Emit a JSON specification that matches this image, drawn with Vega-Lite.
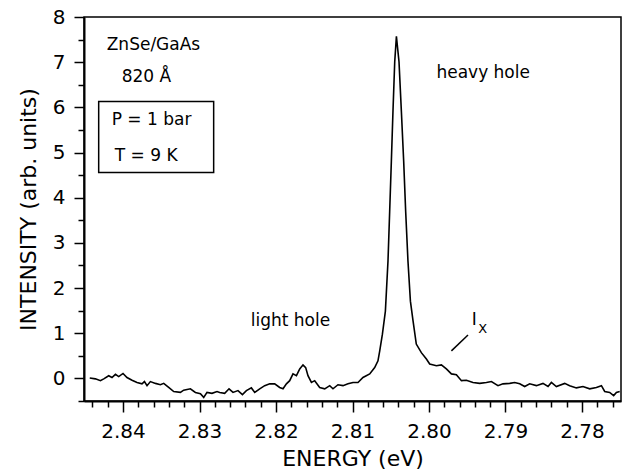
{
  "$schema": "https://vega.github.io/schema/vega-lite/v6.json",
  "width": 537,
  "height": 384,
  "autosize": {"type": "none"},
  "padding": {"left": 84, "top": 17, "right": 3, "bottom": 73},
  "background": "white",
  "config": {
    "view": {"stroke": "black", "strokeWidth": 1.5},
    "font": "DejaVu Sans",
    "axis": {
      "grid": false, "domainColor": "black", "tickColor": "black", "labelColor": "black", "titleColor": "black",
      "domainWidth": 2, "tickWidth": 1.5, "labelFont": "DejaVu Sans", "titleFont": "DejaVu Sans",
      "labelFontWeight": "normal", "titleFontWeight": "normal"
    }
  },
  "datasets": {
    "spectrum": [
      {"energy": 2.84435, "intensity": 0.01}, {"energy": 2.84361, "intensity": -0.01}, {"energy": 2.84295, "intensity": -0.05},
      {"energy": 2.84252, "intensity": -0.01}, {"energy": 2.84187, "intensity": 0.06}, {"energy": 2.84144, "intensity": 0.02},
      {"energy": 2.84099, "intensity": 0.09}, {"energy": 2.84056, "intensity": 0.04}, {"energy": 2.84, "intensity": 0.11},
      {"energy": 2.83948, "intensity": 0.02}, {"energy": 2.83882, "intensity": -0.04}, {"energy": 2.83817, "intensity": -0.09},
      {"energy": 2.83752, "intensity": -0.12}, {"energy": 2.8372, "intensity": -0.07}, {"energy": 2.83686, "intensity": -0.16},
      {"energy": 2.83642, "intensity": -0.07}, {"energy": 2.83576, "intensity": -0.11}, {"energy": 2.83511, "intensity": -0.14},
      {"energy": 2.83468, "intensity": -0.11}, {"energy": 2.83403, "intensity": -0.2}, {"energy": 2.83337, "intensity": -0.29},
      {"energy": 2.8325, "intensity": -0.31}, {"energy": 2.83207, "intensity": -0.26}, {"energy": 2.83119, "intensity": -0.23},
      {"energy": 2.83054, "intensity": -0.31}, {"energy": 2.82988, "intensity": -0.34}, {"energy": 2.82945, "intensity": -0.42},
      {"energy": 2.82902, "intensity": -0.31}, {"energy": 2.82837, "intensity": -0.33}, {"energy": 2.82771, "intensity": -0.29},
      {"energy": 2.82736, "intensity": -0.31}, {"energy": 2.82671, "intensity": -0.33}, {"energy": 2.82614, "intensity": -0.23},
      {"energy": 2.82562, "intensity": -0.31}, {"energy": 2.82497, "intensity": -0.27}, {"energy": 2.82439, "intensity": -0.36},
      {"energy": 2.82387, "intensity": -0.27}, {"energy": 2.82322, "intensity": -0.21}, {"energy": 2.82278, "intensity": -0.31},
      {"energy": 2.82213, "intensity": -0.23}, {"energy": 2.82148, "intensity": -0.16}, {"energy": 2.82082, "intensity": -0.12},
      {"energy": 2.82017, "intensity": -0.12}, {"energy": 2.81952, "intensity": -0.2}, {"energy": 2.81908, "intensity": -0.23},
      {"energy": 2.81864, "intensity": -0.12}, {"energy": 2.81821, "intensity": -0.05}, {"energy": 2.81778, "intensity": 0.1},
      {"energy": 2.81733, "intensity": 0.06}, {"energy": 2.8169, "intensity": 0.21}, {"energy": 2.81647, "intensity": 0.3},
      {"energy": 2.81612, "intensity": 0.24}, {"energy": 2.81582, "intensity": 0.06}, {"energy": 2.81537, "intensity": -0.09},
      {"energy": 2.81494, "intensity": -0.05}, {"energy": 2.81429, "intensity": -0.2}, {"energy": 2.81363, "intensity": -0.23},
      {"energy": 2.81298, "intensity": -0.16}, {"energy": 2.81255, "intensity": -0.23}, {"energy": 2.8119, "intensity": -0.14},
      {"energy": 2.81124, "intensity": -0.16}, {"energy": 2.81059, "intensity": -0.12}, {"energy": 2.80993, "intensity": -0.09},
      {"energy": 2.80928, "intensity": -0.09}, {"energy": 2.80863, "intensity": 0.02}, {"energy": 2.80775, "intensity": 0.1},
      {"energy": 2.8071, "intensity": 0.24}, {"energy": 2.80667, "intensity": 0.39}, {"energy": 2.80644, "intensity": 0.61},
      {"energy": 2.80609, "intensity": 0.98}, {"energy": 2.8057, "intensity": 1.49}, {"energy": 2.80536, "intensity": 2.6},
      {"energy": 2.80514, "intensity": 3.7}, {"energy": 2.80492, "intensity": 4.81}, {"energy": 2.80471, "intensity": 5.91},
      {"energy": 2.80448, "intensity": 7.01}, {"energy": 2.80426, "intensity": 7.57}, {"energy": 2.80392, "intensity": 7.01},
      {"energy": 2.80361, "intensity": 5.91}, {"energy": 2.80331, "intensity": 4.81}, {"energy": 2.80305, "intensity": 3.7},
      {"energy": 2.80275, "intensity": 2.6}, {"energy": 2.80243, "intensity": 1.71}, {"energy": 2.80209, "intensity": 1.28},
      {"energy": 2.80166, "intensity": 0.76}, {"energy": 2.801, "intensity": 0.57}, {"energy": 2.80034, "intensity": 0.43},
      {"energy": 2.79991, "intensity": 0.32}, {"energy": 2.79903, "intensity": 0.28}, {"energy": 2.79838, "intensity": 0.3},
      {"energy": 2.79773, "intensity": 0.21}, {"energy": 2.79707, "intensity": 0.1}, {"energy": 2.79642, "intensity": 0.08},
      {"energy": 2.79576, "intensity": -0.05}, {"energy": 2.79511, "intensity": -0.04}, {"energy": 2.79425, "intensity": -0.09},
      {"energy": 2.79337, "intensity": -0.11}, {"energy": 2.7925, "intensity": -0.09}, {"energy": 2.79184, "intensity": -0.07},
      {"energy": 2.79098, "intensity": -0.16}, {"energy": 2.79033, "intensity": -0.12}, {"energy": 2.78945, "intensity": -0.11},
      {"energy": 2.7888, "intensity": -0.09}, {"energy": 2.78814, "intensity": -0.12}, {"energy": 2.78749, "intensity": -0.18},
      {"energy": 2.78684, "intensity": -0.12}, {"energy": 2.78596, "intensity": -0.16}, {"energy": 2.7851, "intensity": -0.11},
      {"energy": 2.78444, "intensity": -0.18}, {"energy": 2.784, "intensity": -0.09}, {"energy": 2.78335, "intensity": -0.18},
      {"energy": 2.78226, "intensity": -0.11}, {"energy": 2.78161, "intensity": -0.16}, {"energy": 2.78073, "intensity": -0.21},
      {"energy": 2.77987, "intensity": -0.18}, {"energy": 2.77899, "intensity": -0.23}, {"energy": 2.77812, "intensity": -0.2},
      {"energy": 2.77746, "intensity": -0.16}, {"energy": 2.77703, "intensity": -0.29}, {"energy": 2.77638, "intensity": -0.31},
      {"energy": 2.77586, "intensity": -0.38}, {"energy": 2.7755, "intensity": -0.31}, {"energy": 2.77507, "intensity": -0.29}
    ],
    "labels": [
      {"energy": 2.84213, "intensity": 7.39, "text": "ZnSe/GaAs"},
      {"energy": 2.84017, "intensity": 6.68, "text": "820 Å"},
      {"energy": 2.84148, "intensity": 5.71, "text": "P = 1 bar"},
      {"energy": 2.84108, "intensity": 4.92, "text": "T = 9 K"},
      {"energy": 2.79903, "intensity": 6.75, "text": "heavy hole"},
      {"energy": 2.82331, "intensity": 1.27, "text": "light hole"},
      {"energy": 2.7944, "intensity": 1.3, "text": "I"}
    ],
    "sub": [
      {"energy": 2.79355, "intensity": 1.1, "text": "X"}
    ],
    "box": [
      {"e1": 2.84318, "e2": 2.82815, "i1": 6.13, "i2": 4.56}
    ],
    "pointer": [
      {"e1": 2.79707, "e2": 2.7949, "i1": 0.61, "i2": 0.96}
    ]
  },
  "layer": [
    {
      "data": {"name": "spectrum"},
      "mark": {"type": "line", "color": "black", "strokeWidth": 1.6},
      "encoding": {
        "x": {"field": "energy", "type": "quantitative",
          "scale": {"domain": [2.7749, 2.8451], "reverse": true, "nice": false, "zero": false},
          "axis": {"orient": "bottom", "values": [2.84, 2.83, 2.82, 2.81, 2.80, 2.79, 2.78], "format": ".2f",
            "tickSize": 11, "labelPadding": 9, "labelFontSize": 20, "title": "ENERGY (eV)", "titleFontSize": 22, "titlePadding": 7}},
        "y": {"field": "intensity", "type": "quantitative",
          "scale": {"domain": [-0.5, 8], "nice": false, "zero": false},
          "axis": {"orient": "left", "values": [0, 1, 2, 3, 4, 5, 6, 7, 8], "tickSize": 10, "labelPadding": 9, "labelFontSize": 20,
            "title": "INTENSITY (arb. units)", "titleFontSize": 22, "titlePadding": 12}}
      }
    },
    {
      "data": {"name": "spectrum"},
      "mark": {"type": "line", "opacity": 0},
      "encoding": {
        "x": {"field": "energy", "type": "quantitative",
          "axis": {"orient": "bottom", "values": [2.844, 2.842, 2.838, 2.836, 2.834, 2.832, 2.828, 2.826, 2.824, 2.822, 2.818, 2.816, 2.814, 2.812, 2.808, 2.806, 2.804, 2.802, 2.798, 2.796, 2.794, 2.792, 2.788, 2.786, 2.784, 2.782, 2.778, 2.776],
            "tickSize": 6, "labels": false, "domain": false, "title": null}},
        "y": {"field": "intensity", "type": "quantitative",
          "axis": {"orient": "left", "values": [-0.5, 0.5, 1.5, 2.5, 3.5, 4.5, 5.5, 6.5, 7.5], "tickSize": 6, "labels": false, "domain": false, "title": null}}
      }
    },
    {
      "data": {"name": "box"},
      "mark": {"type": "rect", "fill": null, "fillOpacity": 0, "stroke": "black", "strokeWidth": 1.5},
      "encoding": {
        "x": {"field": "e1", "type": "quantitative", "axis": null},
        "x2": {"field": "e2"},
        "y": {"field": "i1", "type": "quantitative", "axis": null},
        "y2": {"field": "i2"}
      }
    },
    {
      "data": {"name": "pointer"},
      "mark": {"type": "rule", "color": "black", "strokeWidth": 1.5},
      "encoding": {
        "x": {"field": "e1", "type": "quantitative", "axis": null},
        "x2": {"field": "e2"},
        "y": {"field": "i1", "type": "quantitative", "axis": null},
        "y2": {"field": "i2"}
      }
    },
    {
      "data": {"name": "labels"},
      "mark": {"type": "text", "align": "left", "baseline": "middle", "fontSize": 17, "color": "black", "font": "DejaVu Sans"},
      "encoding": {
        "x": {"field": "energy", "type": "quantitative", "axis": null},
        "y": {"field": "intensity", "type": "quantitative", "axis": null},
        "text": {"field": "text"}
      }
    },
    {
      "data": {"name": "sub"},
      "mark": {"type": "text", "align": "left", "baseline": "middle", "fontSize": 13, "color": "black", "font": "DejaVu Sans"},
      "encoding": {
        "x": {"field": "energy", "type": "quantitative", "axis": null},
        "y": {"field": "intensity", "type": "quantitative", "axis": null},
        "text": {"field": "text"}
      }
    }
  ],
  "resolve": {"axis": {"x": "independent", "y": "independent"}}
}
